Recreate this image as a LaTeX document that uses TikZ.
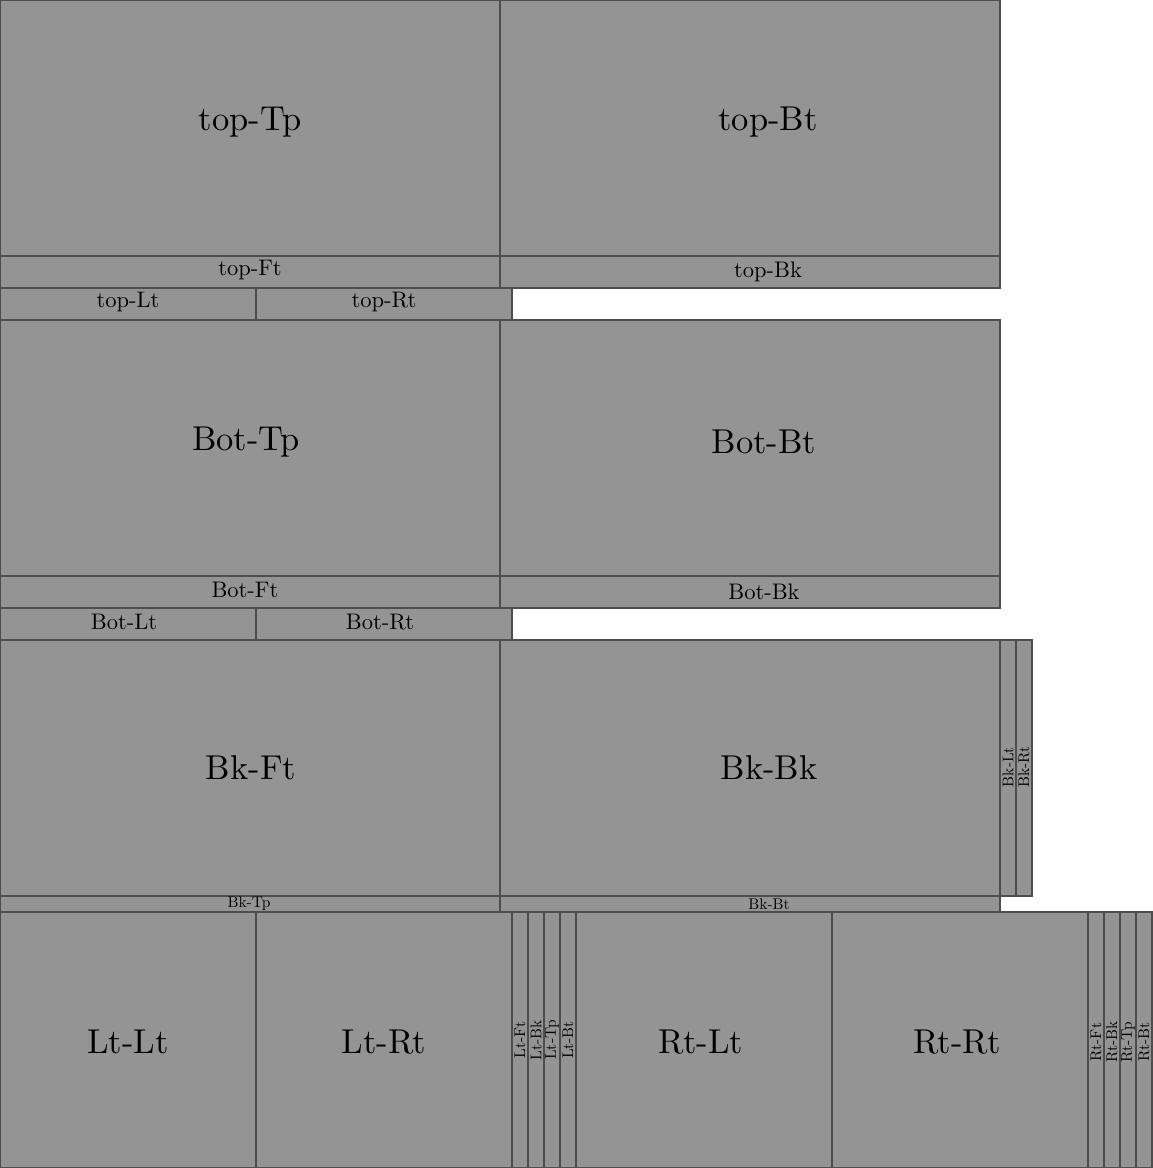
\documentclass[tikz,border=0pt]{standalone}
\usepackage{fontspec}
\setmainfont{lmroman10-regular}[Extension=.otf]
\definecolor{board}{HTML}{949494}
\definecolor{edge}{HTML}{4D4D4D}
\tikzset{
  piece/.style={draw=edge, fill=board, line width=2pt, inner sep=0pt, outer sep=0pt, anchor=center},
  big/.style={inner sep=0pt, font=\fontsize{34.5}{40}\selectfont},
  mid/.style={inner sep=0pt, font=\fontsize{22.5}{26}\selectfont},
  small/.style={inner sep=0pt, font=\fontsize{15.5}{18}\selectfont},
  vert/.style={small, rotate=90}
}
\begin{document}
\begin{tikzpicture}[x=1pt,y=-1pt]
\useasboundingbox (0,0) rectangle (1152,1168);
% row 1: top
\node[piece, minimum width=500pt, minimum height=256pt] (topTp) at (250,128) {};
\node[piece, minimum width=500pt, minimum height=256pt] (topBt) at (750,128) {};
\node[piece, minimum width=500pt, minimum height=32pt] (topFt) at (250,272) {};
\node[piece, minimum width=500pt, minimum height=32pt] (topBk) at (750,272) {};
\node[piece, minimum width=256pt, minimum height=32pt] (topLt) at (128,304) {};
\node[piece, minimum width=256pt, minimum height=32pt] (topRt) at (384,304) {};
% row 2: Bot
\node[piece, minimum width=500pt, minimum height=256pt] (BotTp) at (250,448) {};
\node[piece, minimum width=500pt, minimum height=256pt] (BotBt) at (750,448) {};
\node[piece, minimum width=500pt, minimum height=32pt] (BotFt) at (250,592) {};
\node[piece, minimum width=500pt, minimum height=32pt] (BotBk) at (750,592) {};
\node[piece, minimum width=256pt, minimum height=32pt] (BotLt) at (128,624) {};
\node[piece, minimum width=256pt, minimum height=32pt] (BotRt) at (384,624) {};
% row 3: Bk
\node[piece, minimum width=500pt, minimum height=256pt] (BkFt) at (250,768) {};
\node[piece, minimum width=500pt, minimum height=256pt] (BkBk) at (750,768) {};
\node[piece, minimum width=16pt, minimum height=256pt] (BkLt) at (1008,768) {};
\node[piece, minimum width=16pt, minimum height=256pt] (BkRt) at (1024,768) {};
\node[piece, minimum width=500pt, minimum height=16pt] (BkTp) at (250,904) {};
\node[piece, minimum width=500pt, minimum height=16pt] (BkBt) at (750,904) {};
% row 4: Lt and Rt
\node[piece, minimum width=256pt, minimum height=256pt] (LtLt) at (128,1040) {};
\node[piece, minimum width=256pt, minimum height=256pt] (LtRt) at (384,1040) {};
\node[piece, minimum width=16pt, minimum height=256pt] (LtFt) at (520,1040) {};
\node[piece, minimum width=16pt, minimum height=256pt] (LtBk) at (536,1040) {};
\node[piece, minimum width=16pt, minimum height=256pt] (LtTp) at (552,1040) {};
\node[piece, minimum width=16pt, minimum height=256pt] (LtBt) at (568,1040) {};
\node[piece, minimum width=256pt, minimum height=256pt] (RtLt) at (704,1040) {};
\node[piece, minimum width=256pt, minimum height=256pt] (RtRt) at (960,1040) {};
\node[piece, minimum width=16pt, minimum height=256pt] (RtFt) at (1096,1040) {};
\node[piece, minimum width=16pt, minimum height=256pt] (RtBk) at (1112,1040) {};
\node[piece, minimum width=16pt, minimum height=256pt] (RtTp) at (1128,1040) {};
\node[piece, minimum width=16pt, minimum height=256pt] (RtBt) at (1144,1040) {};
% labels
\node[big] (lTopTp) at (250,122) {top-Tp};
\node[big] (lTopBt) at (768,122) {top-Bt};
\node[mid] (lTopFt) at (250,270) {top-Ft};
\node[mid] (lTopBk) at (768,272) {top-Bk};
\node[mid] (lTopLt) at (128,302) {top-Lt};
\node[mid] (lTopRt) at (384,302) {top-Rt};
\node[big] (lBotTp) at (246,442) {Bot-Tp};
\node[big] (lBotBt) at (764,442) {Bot-Bt};
\node[mid] (lBotFt) at (245,590) {Bot-Ft};
\node[mid] (lBotBk) at (764,592) {Bot-Bk};
\node[mid] (lBotLt) at (124,622) {Bot-Lt};
\node[mid] (lBotRt) at (380,622) {Bot-Rt};
\node[big] (lBkFt) at (251,768) {Bk-Ft};
\node[big] (lBkBk) at (769,768) {Bk-Bk};
\node[vert] (lBkLt) at (1008,767) {Bk-Lt};
\node[vert] (lBkRt) at (1024,767) {Bk-Rt};
\node[small] (lBkTp) at (249,904) {Bk-Tp};
\node[small] (lBkBt) at (769,904) {Bk-Bt};
\node[big] (lLtLt) at (128,1042) {Lt-Lt};
\node[big] (lLtRt) at (384,1042) {Lt-Rt};
\node[vert] (lLtFt) at (520,1040) {Lt-Ft};
\node[vert] (lLtBk) at (536,1040) {Lt-Bk};
\node[vert] (lLtTp) at (552,1040) {Lt-Tp};
\node[vert] (lLtBt) at (568,1040) {Lt-Bt};
\node[big] (lRtLt) at (701,1042) {Rt-Lt};
\node[big] (lRtRt) at (957,1042) {Rt-Rt};
\node[vert] (lRtFt) at (1096,1042) {Rt-Ft};
\node[vert] (lRtBk) at (1112,1042) {Rt-Bk};
\node[vert] (lRtTp) at (1128,1042) {Rt-Tp};
\node[vert] (lRtBt) at (1144,1042) {Rt-Bt};
\end{tikzpicture}
\end{document}
